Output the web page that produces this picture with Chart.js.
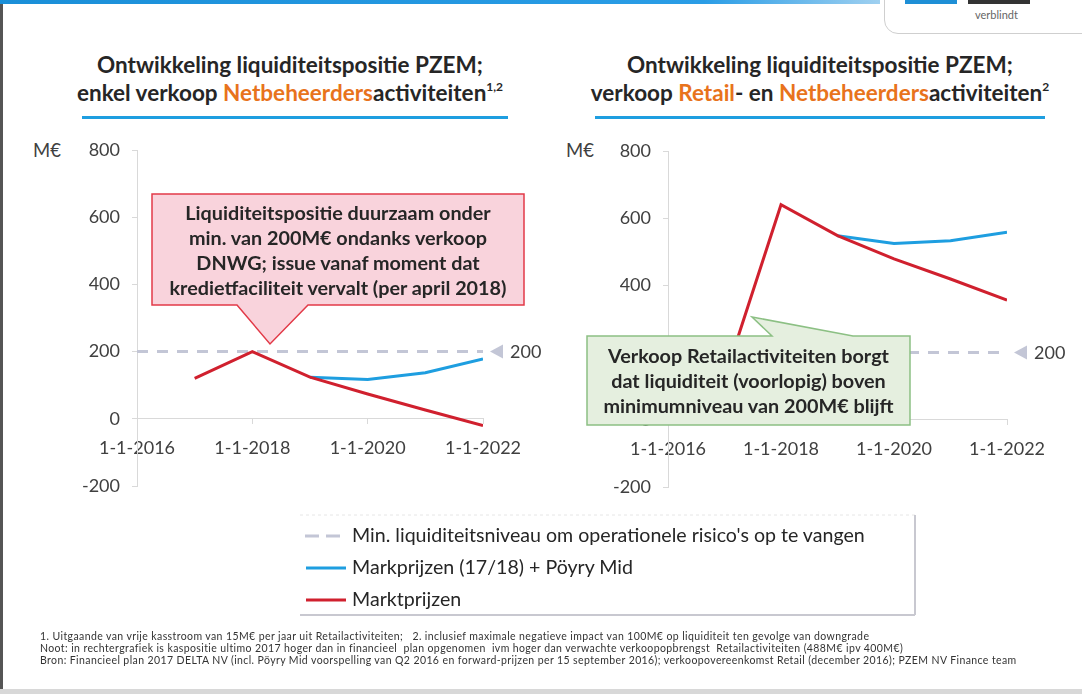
<!DOCTYPE html>
<html><head><meta charset="utf-8">
<script src="https://cdn.jsdelivr.net/npm/chart.js@4.4.0/dist/chart.umd.min.js"></script>
<style>
html,body{margin:0;padding:0;background:#fff;}
body{width:1082px;height:694px;position:relative;overflow:hidden;font-family:Lato,"Open Sans",sans-serif;color:#262626;}
.abs{position:absolute;}
.title{position:absolute;font-weight:bold;font-size:22.5px;line-height:28px;text-align:center;white-space:nowrap;color:#262626;}
.or{color:#e8731c;}
sup{font-size:12px;line-height:0;vertical-align:10px;}
.uline{position:absolute;height:3px;background:#1e9ee0;}
canvas{position:absolute;}
.meur{position:absolute;font-size:18.5px;color:#404040;}
.call{position:absolute;font-weight:bold;font-size:19.8px;line-height:25px;text-align:center;white-space:nowrap;color:#262626;}
.leg{position:absolute;font-size:19.6px;color:#262626;white-space:nowrap;}
.foot{position:absolute;left:40px;font-size:10.5px;letter-spacing:0.4px;line-height:11.5px;color:#333;white-space:nowrap;}
</style></head>
<body>
<!-- frame -->
<div class="abs" style="left:0;top:0;width:3px;height:694px;background:#555;"></div>
<div class="abs" style="left:0;top:0;width:880px;height:4px;background:linear-gradient(90deg,#1a8fd8,#2a9de6 80%,#9fd0f0);"></div>
<div class="abs" style="left:0;top:689px;width:1082px;height:5px;background:#d8d8d8;"></div>
<div class="abs" style="left:884px;top:-10px;width:210px;height:42px;border:1px solid #cfcfcf;border-radius:0 0 0 14px;background:#fff;"></div>
<div class="abs" style="left:905px;top:0;width:52px;height:4px;background:#1e8fd6;"></div>
<div class="abs" style="left:968px;top:0;width:62px;height:4px;background:#333;"></div>
<div class="abs" style="left:975px;top:8px;font-size:11px;color:#666;">verblindt</div>

<!-- titles -->
<div class="title" style="left:30px;width:520px;top:51px;">Ontwikkeling liquiditeitspositie PZEM;<br>enkel verkoop <span class="or">Netbeheerders</span>activiteiten<sup>1,2</sup></div>
<div class="title" style="left:560px;width:520px;top:51px;">Ontwikkeling liquiditeitspositie PZEM;<br>verkoop <span class="or">Retail</span>- en <span class="or">Netbeheerders</span>activiteiten<sup>2</sup></div>
<div class="uline" style="left:82px;width:426px;top:116px;"></div>
<div class="uline" style="left:595px;width:450px;top:116px;"></div>

<div class="meur" style="left:33px;top:139px;">M€</div>
<div class="meur" style="left:566px;top:139px;">M€</div>

<canvas id="c1" width="541" height="370" style="left:0;top:130px;width:541px;height:370px;"></canvas>
<canvas id="c2" width="541" height="370" style="left:541px;top:130px;width:541px;height:370px;"></canvas>

<!-- callouts -->
<svg class="abs" style="left:0;top:0;" width="1082" height="694">
  <polygon points="152,194 524,194 524,305 308,305 270,344 237,305 152,305" fill="#f9d3dc" stroke="#e23a48" stroke-width="1.5"/>
  <polygon points="587,336 772,336 752,317 853,336 910,336 910,425 587,425" fill="#e5efdf" stroke="#8cc084" stroke-width="1.5"/>
  <!-- legend box -->
  <line x1="300" y1="515" x2="915" y2="515" stroke="#e6e6e6" stroke-width="1" stroke-dasharray="3,3"/>
  <line x1="915" y1="515" x2="915" y2="615" stroke="#c8c8d0" stroke-width="2"/>
  <line x1="300" y1="615" x2="915" y2="615" stroke="#c8c8d0" stroke-width="2"/>
  <line x1="305" y1="536" x2="345" y2="536" stroke="#c3c6d6" stroke-width="3" stroke-dasharray="14,7"/>
  <line x1="306" y1="568" x2="346" y2="568" stroke="#1e9ee0" stroke-width="3"/>
  <line x1="306" y1="600" x2="346" y2="600" stroke="#d0202e" stroke-width="3"/>
</svg>
<div class="call" style="left:152px;width:372px;top:200px;">Liquiditeitspositie duurzaam onder<br>min. van 200M€ ondanks verkoop<br>DNWG; issue vanaf moment dat<br>kredietfaciliteit vervalt (per april 2018)</div>
<div class="call" style="left:587px;width:323px;top:343px;">Verkoop Retailactiviteiten borgt<br>dat liquiditeit (voorlopig) boven<br>minimumniveau van 200M€ blijft</div>

<div class="leg" style="left:352px;top:523px;">Min. liquiditeitsniveau om operationele risico's op te vangen</div>
<div class="leg" style="left:352px;top:555px;">Markprijzen (17/18) + Pöyry Mid</div>
<div class="leg" style="left:352px;top:587px;">Marktprijzen</div>

<div class="foot" style="top:631px;">1. Uitgaande van vrije kasstroom van 15M€ per jaar uit Retailactiviteiten;&nbsp;&nbsp; 2. inclusief maximale negatieve impact van 100M€ op liquiditeit ten gevolge van downgrade</div>
<div class="foot" style="top:643px;">Noot: in rechtergrafiek is kaspositie ultimo 2017 hoger dan in financieel&nbsp; plan opgenomen&nbsp; ivm hoger dan verwachte verkoopopbrengst&nbsp; Retailactiviteiten (488M€ ipv 400M€)</div>
<div class="foot" style="top:655px;">Bron: Financieel plan 2017 DELTA NV (incl. Pöyry Mid voorspelling van Q2 2016 en forward-prijzen per 15 september 2016); verkoopovereenkomst Retail (december 2016); PZEM NV Finance team</div>

<script>
// ---- data ----
const years = [2017, 2018, 2019, 2020, 2021, 2022];
const leftMarktprijzen = [120, 200, 124, 74, 26, -20];
const leftPoyryMid = [null, null, 124, 117, 137, 178];
const rightMarktprijzen = [123, 640, 548, 479, 419, 356];
const rightPoyryMid = [null, null, 548, 525, 533, 558];
const minYears = [2016, 2022];
const minLevel = [200, 200];
const xTicks = [2016, 2018, 2020, 2022];
const yTicks = [-200, 0, 200, 400, 600, 800];
const labels = ["Marktprijzen", "Markprijzen (17/18) + Pöyry Mid", "Min. liquiditeitsniveau om operationele risico's op te vangen"];

const RED = '#d0202e', BLUE = '#1e9ee0', DASH = '#c3c6d6', AXIS = '#d9d9d9', TXT = '#404040';
const pts = (xs, ys) => xs.map((x, i) => ({x, y: ys[i]})).filter(p => p.y !== null);

const minLabelPlugin = {
  id: 'minLabel',
  afterDatasetsDraw(chart) {
    const {ctx, scales: {x, y}} = chart;
    const py = y.getPixelForValue(minLevel[minLevel.length - 1]);
    const px = x.getPixelForValue(minYears[minYears.length - 1]) + 7;
    ctx.save();
    ctx.fillStyle = DASH;
    ctx.beginPath();
    ctx.moveTo(px, py); ctx.lineTo(px + 13, py - 7); ctx.lineTo(px + 13, py + 7); ctx.closePath(); ctx.fill();
    ctx.fillStyle = TXT; ctx.font = '18px Lato'; ctx.textBaseline = 'middle';
    ctx.fillText(String(minLevel[minLevel.length - 1]), px + 20, py + 1);
    ctx.restore();
  }
};

function makeChart(id, markt, poyry, pad, yWidth) {
  return new Chart(document.getElementById(id), {
    type: 'line',
    data: {
      datasets: [
        {label: labels[0], data: pts(years, markt), borderColor: RED, borderWidth: 3, pointRadius: 0, tension: 0, fill: false},
        {label: labels[1], data: pts(years, poyry), borderColor: BLUE, borderWidth: 3, pointRadius: 0, tension: 0, fill: false},
        {label: labels[2], data: pts(minYears, minLevel), borderColor: DASH, borderWidth: 3, borderDash: [11, 9], pointRadius: 0, fill: false}
      ]
    },
    options: {
      responsive: false, animation: false, devicePixelRatio: 1,
      layout: {padding: pad},
      plugins: {legend: {display: false}, tooltip: {enabled: false}},
      scales: {
        x: {
          type: 'linear', min: xTicks[0], max: xTicks[xTicks.length - 1],
          position: {y: 0},
          afterBuildTicks: s => { s.ticks = xTicks.map(v => ({value: v})); },
          afterFit: s => { s.paddingLeft = 0; s.paddingRight = 0; },
          grid: {drawOnChartArea: false, drawTicks: true, tickLength: 5, color: AXIS},
          border: {display: true, color: AXIS, width: 1},
          ticks: {autoSkip: false, maxRotation: 0, padding: 14, color: TXT, font: {family: 'Lato', size: 18}, callback: v => '1-1-' + v}
        },
        y: {
          min: yTicks[0], max: yTicks[yTicks.length - 1],
          afterBuildTicks: s => { s.ticks = yTicks.map(v => ({value: v})); },
          afterFit: s => { s.width = yWidth; s.paddingTop = 0; s.paddingBottom = 0; },
          grid: {drawOnChartArea: false, drawTicks: true, tickLength: 5, color: AXIS},
          border: {display: true, color: AXIS, width: 1},
          ticks: {padding: 12, color: TXT, font: {family: 'Lato', size: 18}}
        }
      }
    },
    plugins: [minLabelPlugin]
  });
}

makeChart('c1', leftMarktprijzen, leftPoyryMid, {left: 0, right: 58, top: 20, bottom: 14}, 137);
makeChart('c2', rightMarktprijzen, rightPoyryMid, {left: 0, right: 75, top: 21, bottom: 13}, 127);
</script>
</body></html>
